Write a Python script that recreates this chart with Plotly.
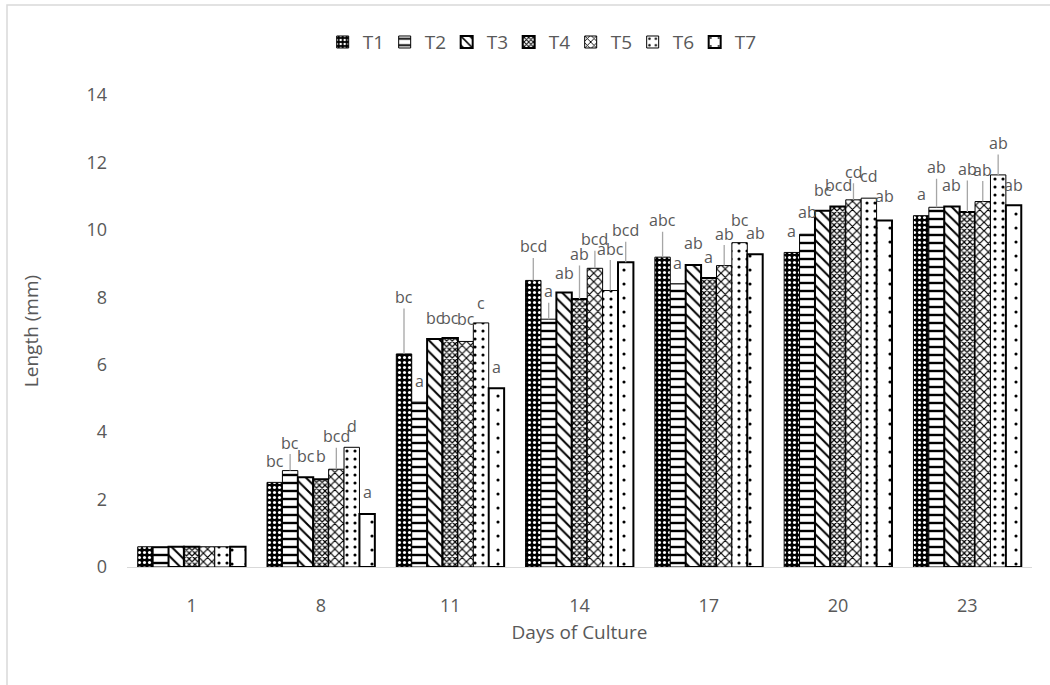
import plotly.graph_objects as go

# Days of culture (categories)
days = ["1", "8", "11", "14", "17", "20", "23"]

# Mean length (mm) per treatment
t1 = [0.60, 2.51, 6.32, 8.50, 9.19, 9.33, 10.42]
t2 = [0.60, 2.86, 4.89, 7.35, 8.40, 9.87, 10.67]
t3 = [0.60, 2.66, 6.76, 8.14, 8.96, 10.57, 10.69]
t4 = [0.60, 2.60, 6.79, 7.95, 8.57, 10.69, 10.53]
t5 = [0.60, 2.90, 6.69, 8.86, 8.94, 10.89, 10.84]
t6 = [0.60, 3.55, 7.24, 8.20, 9.62, 10.94, 11.63]
t7 = [0.60, 1.57, 5.30, 9.04, 9.28, 10.28, 10.73]

# Significance letters per treatment
l1 = ["", "bc", "bc", "bcd", "abc", "a", "a"]
l2 = ["", "bc", "a", "a", "a", "ab", "ab"]
l3 = ["", "bc", "bc", "ab", "ab", "bc", "ab"]
l4 = ["", "b", "bc", "ab", "a", "bcd", "ab"]
l5 = ["", "bcd", "bc", "bcd", "ab", "cd", "ab"]
l6 = ["", "d", "c", "abc", "bc", "cd", "ab"]
l7 = ["", "a", "a", "bcd", "ab", "ab", "ab"]

names = ["T1", "T2", "T3", "T4", "T5", "T6", "T7"]
values = [t1, t2, t3, t4, t5, t6, t7]
letters = [l1, l2, l3, l4, l5, l6, l7]

# Label lift above each bar top (px); larger lifts get a leader line
lifts = [
    [0, 21, 57, 34, 37, 21, 22],
    [0, 28, 21, 28, 21, 22, 40],
    [0, 21, 21, 20, 22, 21, 22],
    [0, 23, 20, 45, 21, 22, 43],
    [0, 33, 22, 29, 32, 28, 32],
    [0, 21, 20, 42, 23, 22, 32],
    [0, 22, 21, 32, 21, 24, 20],
]

# Fill patterns and outlines for each treatment
styles = [
    dict(shape=".", size=5, solidity=0.3, fgcolor="white", bgcolor="black", lw=1),
    dict(shape="-", size=8, solidity=0.3, fgcolor="black", bgcolor="white", lw=1),
    dict(shape="\\", size=8, solidity=0.25, fgcolor="black", bgcolor="white", lw=2),
    dict(shape="x", size=4, solidity=0.5, fgcolor="black", bgcolor="white", lw=2),
    dict(shape="x", size=6, solidity=0.35, fgcolor="black", bgcolor="white", lw=1),
    dict(shape=".", size=8, solidity=0.12, fgcolor="black", bgcolor="white", lw=1),
    dict(shape=".", size=14, solidity=0.04, fgcolor="black", bgcolor="white", lw=2),
]

FONT = "Open Sans"
GREY = "#595959"
BARGAP = 0.166

fig = go.Figure()
for name, vals, st in zip(names, values, styles):
    fig.add_trace(go.Bar(
        x=days, y=vals, name=name,
        marker=dict(
            color=st["bgcolor"],
            line=dict(color="black", width=st["lw"]),
            pattern=dict(shape=st["shape"], size=st["size"], solidity=st["solidity"],
                         fgcolor=st["fgcolor"], bgcolor=st["bgcolor"], fillmode="replace"),
        ),
    ))

# Letter annotations placed at each bar's centre on the category axis
n = len(names)
group_w = 1 - BARGAP
bar_w = group_w / n
annotations = []
for i in range(n):
    offset = -group_w / 2 + bar_w * (i + 0.5)
    for k in range(len(days)):
        txt = letters[i][k]
        if not txt:
            continue
        lift = lifts[i][k]
        leader = lift >= 27
        annotations.append(dict(
            x=k + offset, y=values[i][k], xref="x", yref="y",
            text=txt, showarrow=True, arrowhead=0, arrowwidth=1.3,
            arrowcolor="#a6a6a6" if leader else "rgba(0,0,0,0)",
            ax=0, ay=-lift, standoff=0, borderpad=0,
            font=dict(family=FONT, size=16, color=GREY),
        ))

fig.update_layout(
    width=1050, height=685,
    margin=dict(l=127, r=18, t=95, b=118),
    paper_bgcolor="white", plot_bgcolor="white",
    barmode="group", bargap=BARGAP, bargroupgap=0,
    font=dict(family=FONT, color=GREY),
    showlegend=True,
    legend=dict(orientation="h", x=0.456, xanchor="center", y=1.112, yanchor="middle",
                font=dict(family=FONT, size=19, color=GREY), itemwidth=30,
                entrywidth=17, entrywidthmode="pixels",
                traceorder="normal"),
    annotations=annotations,
    shapes=[dict(type="rect", xref="paper", yref="paper",
                 x0=-0.1326, x1=1.3, y0=-0.5, y1=1.1907,
                 line=dict(color="#d9d9d9", width=1.5), layer="below")],
)

fig.update_xaxes(
    type="category",
    showline=True, linecolor="#d9d9d9", linewidth=1,
    showgrid=False, ticks="",
    tickfont=dict(family=FONT, size=18, color=GREY),
    ticklabelstandoff=22,
    title=dict(text="Days of Culture", font=dict(family=FONT, size=19, color=GREY), standoff=10),
)
fig.update_yaxes(
    range=[0, 14], dtick=2, tick0=0,
    showline=False, showgrid=False, zeroline=False, ticks="",
    tickfont=dict(family=FONT, size=18, color=GREY),
    ticklabelstandoff=19,
    title=dict(text="Length (mm)", font=dict(family=FONT, size=19, color=GREY), standoff=42),
)

fig.write_html("out.html")
